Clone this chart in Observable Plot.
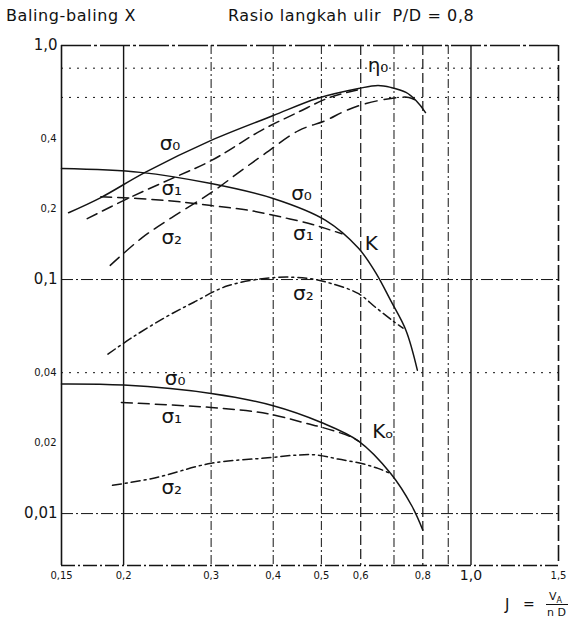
<!DOCTYPE html>
<html><head><meta charset="utf-8">
<script src="https://cdn.jsdelivr.net/npm/d3@7"></script>
<script src="https://cdn.jsdelivr.net/npm/@observablehq/plot@0.6"></script>
<style>
body{margin:0;background:#fff;color:#111;font-family:"DejaVu Sans","Liberation Sans",sans-serif;}
#wrap{position:relative;width:578px;height:628px;overflow:hidden;}
#title{position:relative;height:30px;}
#title span{position:absolute;top:6px;font-size:16px;letter-spacing:0.6px;white-space:nowrap;}
#t1{left:6px;}
#t2{left:228px;letter-spacing:0.9px;}
#cap{position:absolute;left:0;top:590px;width:578px;height:38px;}
#cap span{position:absolute;white-space:nowrap;}
</style></head><body>
<div id="wrap">
  <div id="title"><span id="t1">Baling-baling X</span><span id="t2">Rasio langkah ulir&nbsp; P/D = 0,8</span></div>
  <div id="chart"></div>
  <div id="cap">
    <span style="left:505px;top:6px;font-size:15px;">J</span>
    <span style="left:523px;top:6px;font-size:14px;">=</span>
    <span style="left:549px;top:0px;font-size:11px;">V<sub style="font-size:8px">A</sub></span>
    <span style="left:546px;top:14px;width:22px;border-top:1px solid #111;"></span>
    <span style="left:547px;top:16px;font-size:11px;">n D</span>
  </div>
</div>
<script>
// ---- data (J = advance ratio, log axes) ----
const J_eta0 = [0.155, 0.18, 0.221, 0.30, 0.40, 0.49, 0.594, 0.65, 0.69, 0.74, 0.775, 0.81];
const eta_s0 = [0.193, 0.224, 0.287, 0.393, 0.502, 0.594, 0.655, 0.675, 0.662, 0.63, 0.582, 0.517];
const J_eta1 = [0.169, 0.204, 0.25, 0.30, 0.378, 0.45, 0.52, 0.60];
const eta_s1 = [0.182, 0.222, 0.27, 0.322, 0.433, 0.52, 0.60, 0.65];
const J_eta2 = [0.188, 0.218, 0.25, 0.30, 0.345, 0.385, 0.45, 0.51, 0.56, 0.615, 0.69, 0.75, 0.775];
const eta_s2 = [0.115, 0.151, 0.184, 0.235, 0.292, 0.345, 0.433, 0.478, 0.527, 0.565, 0.594, 0.60, 0.582];

const J_K0 = [0.15, 0.216, 0.30, 0.40, 0.51, 0.594, 0.643, 0.69, 0.74, 0.78];
const K_s0 = [0.298, 0.287, 0.257, 0.222, 0.179, 0.136, 0.107, 0.081, 0.0606, 0.041];
const J_K1 = [0.18, 0.242, 0.30, 0.36, 0.42, 0.48, 0.52, 0.55];
const K_s1 = [0.226, 0.218, 0.207, 0.197, 0.184, 0.172, 0.163, 0.157];
const J_K2 = [0.186, 0.208, 0.242, 0.277, 0.324, 0.403, 0.472, 0.525, 0.594, 0.643, 0.70, 0.73];
const K_s2 = [0.048, 0.0565, 0.0687, 0.080, 0.094, 0.102, 0.101, 0.096, 0.087, 0.076, 0.066, 0.062];

const J_Ko0 = [0.15, 0.2, 0.3, 0.4, 0.5, 0.594, 0.69, 0.76, 0.80];
const Ko_s0 = [0.0358, 0.0354, 0.0326, 0.0289, 0.0245, 0.0204, 0.0148, 0.0108, 0.0085];
const J_Ko1 = [0.198, 0.3, 0.39, 0.47, 0.5, 0.57, 0.594];
const Ko_s1 = [0.0298, 0.0284, 0.0267, 0.0242, 0.0234, 0.0214, 0.0204];
const J_Ko2 = [0.19, 0.231, 0.3, 0.39, 0.45, 0.49, 0.54, 0.60, 0.65, 0.69];
const Ko_s2 = [0.0132, 0.0142, 0.0164, 0.0173, 0.0178, 0.0178, 0.0171, 0.0164, 0.0156, 0.0148];

const labelText = ["η₀", "σ₀", "σ₁", "σ₂", "σ₀", "σ₁", "σ₂", "K", "σ₀", "σ₁", "σ₂", "Kₒ"];
const labelJ = [0.65, 0.248, 0.25, 0.25, 0.456, 0.46, 0.46, 0.63, 0.254, 0.25, 0.25, 0.665];
const labelV = [0.82, 0.381, 0.245, 0.151, 0.233, 0.157, 0.087, 0.142, 0.0376, 0.026, 0.0129, 0.0223];

const xTickVals = [0.15, 0.2, 0.3, 0.4, 0.5, 0.6, 0.8, 1.5];
const xTickLabels = ["0,15", "0,2", "0,3", "0,4", "0,5", "0,6", "0,8", "1,5"];
const xMajorVals = [1.0];
const xMajorLabels = ["1,0"];
const yTickVals = [0.6, 0.4, 0.2, 0.06, 0.04, 0.02, 0.006];
const yTickLabels = ["0,6", "0,4", "0,2", "0,06", "0,04", "0,02", "0,005"];
const yMajorVals = [1.0, 0.1, 0.01];
const yMajorLabels = ["1,0", "0,1", "0,01"];

const gridSolidJ = [0.2, 1.0];
const gridDashDotJ = [0.3, 0.4, 0.5, 0.7, 0.9];
const gridDashJ = [0.6, 0.8];
const gridDashDotV = [0.1, 0.01];
const gridDotV = [0.8, 0.6, 0.04];

// ---- build ----
const pts = (J, V) => J.map((j, i) => ({J: j, v: V[i]}));
const fmt = (vals, labs) => d => labs[vals.findIndex(v => Math.abs(v - d) < 1e-9)] ?? "";
const labels = labelText.map((t, i) => ({t, J: labelJ[i], v: labelV[i]}));
const ink = "#141414";
const lineOpts = (dash) => ({x: "J", y: "v", stroke: ink, strokeWidth: 1.5, curve: "catmull-rom", strokeDasharray: dash});

const chart = Plot.plot({
  width: 578, height: 560,
  marginTop: 15, marginBottom: 25, marginLeft: 61, marginRight: 20,
  x: {type: "log", domain: [0.15, 1.5]},
  y: {type: "log", domain: [0.006, 1]},
  style: {background: "white", color: ink, fontFamily: "DejaVu Sans, Liberation Sans, sans-serif"},
  marks: [
    // grid
    Plot.ruleX(gridSolidJ, {stroke: ink, strokeWidth: 1.4}),
    Plot.ruleX(gridDashDotJ, {stroke: ink, strokeWidth: 1, strokeDasharray: "9,3,2,3"}),
    Plot.ruleX(gridDashJ, {stroke: ink, strokeWidth: 1.2, strokeDasharray: "10,4"}),
    Plot.ruleY(gridDashDotV, {stroke: ink, strokeWidth: 1, strokeDasharray: "12,3,2,3"}),
    Plot.ruleY(gridDotV, {stroke: ink, strokeWidth: 1, strokeDasharray: "2,6"}),
    // frame
    Plot.ruleX([0.15], {stroke: ink, strokeWidth: 1.6}),
    Plot.ruleY([1.0], {stroke: ink, strokeWidth: 1.3, strokeDasharray: "30,3,3,3"}),
    Plot.ruleX([1.5], {stroke: ink, strokeWidth: 1.6, strokeDasharray: "16,4"}),
    Plot.ruleY([0.006], {stroke: ink, strokeWidth: 1.3, strokeDasharray: "14,3,2,3"}),
    // curves
    Plot.line(pts(J_eta0, eta_s0), lineOpts(null)),
    Plot.line(pts(J_eta1, eta_s1), lineOpts("11,6")),
    Plot.line(pts(J_eta2, eta_s2), lineOpts("12,7")),
    Plot.line(pts(J_K0, K_s0), lineOpts(null)),
    Plot.line(pts(J_K1, K_s1), lineOpts("11,6")),
    Plot.line(pts(J_K2, K_s2), lineOpts("9,4,2,4")),
    Plot.line(pts(J_Ko0, Ko_s0), lineOpts(null)),
    Plot.line(pts(J_Ko1, Ko_s1), lineOpts("11,6")),
    Plot.line(pts(J_Ko2, Ko_s2), lineOpts("9,4,2,4")),
    // curve labels
    Plot.text(labels, {x: "J", y: "v", text: "t", fontSize: 20, fill: ink}),
    // axes
    Plot.axisX({ticks: xTickVals, tickFormat: fmt(xTickVals, xTickLabels), tickSize: 0, tickPadding: 6, fontSize: 10, label: null}),
    Plot.axisX({ticks: xMajorVals, tickFormat: fmt(xMajorVals, xMajorLabels), tickSize: 0, tickPadding: 5, fontSize: 14, label: null}),
    Plot.axisY({ticks: yTickVals, tickFormat: fmt(yTickVals, yTickLabels), tickSize: 0, tickPadding: 5, fontSize: 10, label: null}),
    Plot.axisY({ticks: yMajorVals, tickFormat: fmt(yMajorVals, yMajorLabels), tickSize: 0, tickPadding: 4, fontSize: 15, label: null})
  ]
});
document.getElementById("chart").appendChild(chart);
</script>
</body></html>
